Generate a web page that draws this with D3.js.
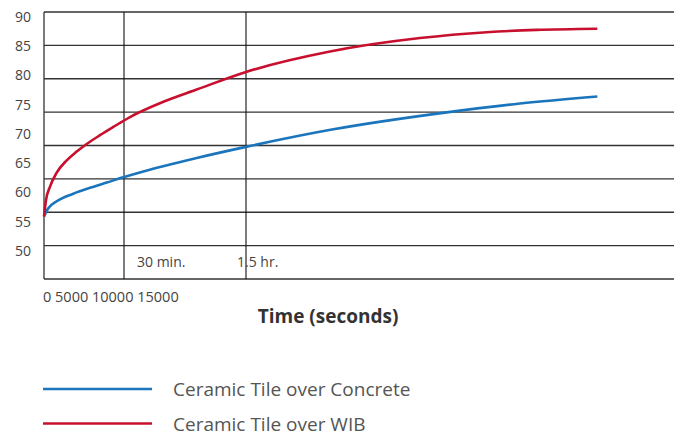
<!DOCTYPE html>
<meta charset="utf-8">
<html>
<style>
body { margin: 0; background: #fff; }
svg { display: block; font-family: "Open Sans", sans-serif; }
.grid { stroke: #333; stroke-width: 1.3px; }
.ylab { fill: #444; font-size: 14px; }
.curve { fill: none; stroke-width: 2.6px; }
.legend text { fill: #555; font-size: 19px; }
</style>
<body>
<script src="https://cdnjs.cloudflare.com/ajax/libs/d3/7.8.5/d3.min.js"></script>
<script>
	var width = 679;
	var height = 433;

	// values (time in seconds, temperature)
	var yTicks = [90, 85, 80, 75, 70, 65, 60, 55, 50];
	var xTickLabels = ["0", "5000", "10000", "15000"];
	var markerTimes = [1800, 4545];
	var markerLabels = ["30 min.", "1.5 hr."];
	var seriesNames = ["Ceramic Tile over Concrete", "Ceramic Tile over WIB"];
	var seriesColors = ["#1b75bc", "#c8102e"];

	var concreteTime = [0, 97, 286, 659, 1035, 1411, 1784, 2235, 3435, 4545, 6510, 9060, 10710, 12450];
	var concreteTemp = [55.9, 57.3, 58.5, 59.8, 60.8, 61.7, 62.6, 63.6, 65.9, 67.8, 70.8, 73.7, 75.2, 76.4];

	var wibTime = [0, 45, 135, 286, 511, 736, 961, 1260, 1559, 1935, 2685, 3435, 4545, 6435, 8460, 9960, 11085, 12450];
	var wibTemp = [55.9, 58.7, 61.0, 63.4, 65.5, 67.0, 68.3, 69.8, 71.2, 72.9, 75.5, 77.6, 80.6, 84.1, 86.4, 87.4, 87.8, 88.0];

	var plotLeft = 44, plotRight = 674, plotTop = 12, plotBottom = 279;

	var svg = d3.select("body")
				.append("svg")
				.attr("width", width)
				.attr("height", height);

	var x = d3.scaleLinear().domain([0, 14175]).range([plotLeft, plotRight]);
	// temperature scale the curves and labels use
	var y = d3.scaleLinear().domain([50, 90]).range([251, 17]);
	// the printed grid sits on its own, slightly taller scale
	var yGrid = d3.scaleLinear().domain([50, 90]).range([plotBottom, plotTop]);

	var grid = svg.append("g");

	grid.selectAll("line.h")
		.data(yTicks)
		.enter()
		.append("line")
		.attr("class", "grid h")
		.attr("x1", plotLeft)
		.attr("x2", plotRight)
		.attr("y1", d => yGrid(d))
		.attr("y2", d => yGrid(d));

	grid.append("line")
		.attr("class", "grid")
		.attr("x1", plotLeft).attr("x2", plotLeft)
		.attr("y1", plotTop).attr("y2", plotBottom);

	grid.selectAll("line.v")
		.data(markerTimes)
		.enter()
		.append("line")
		.attr("class", "grid v")
		.style("stroke", "#111")
		.style("stroke-width", "1.1px")
		.attr("x1", d => x(d))
		.attr("x2", d => x(d))
		.attr("y1", plotTop)
		.attr("y2", plotBottom);

	svg.selectAll("text.ylab")
		.data(yTicks)
		.enter()
		.append("text")
		.attr("class", "ylab")
		.attr("x", 31)
		.attr("y", d => y(d))
		.attr("dy", "0.35em")
		.attr("text-anchor", "end")
		.text(d => d);

	svg.selectAll("text.marker")
		.data(markerLabels)
		.enter()
		.append("text")
		.attr("class", "ylab")
		.attr("x", (d, i) => i == 0 ? x(markerTimes[i]) + 13 : x(markerTimes[i]) - 9)
		.attr("y", 267)
		.text(d => d);

	var xt = svg.append("text")
		.attr("class", "ylab")
		.style("font-size", "14.5px")
		.attr("x", plotLeft - 1)
		.attr("y", 302);
	xt.selectAll("tspan")
		.data(xTickLabels)
		.enter()
		.append("tspan")
		.text((d, i) => (i > 0 ? " " : "") + d);

	svg.append("text")
		.attr("x", 328)
		.attr("y", 323)
		.attr("text-anchor", "middle")
		.style("font-size", "19px")
		.style("font-weight", "bold")
		.style("fill", "#333")
		.text("Time (seconds)");

	var line = d3.line()
		.x(d => x(d[0]))
		.y(d => y(d[1]))
		.curve(d3.curveMonotoneX);

	var series = [d3.zip(concreteTime, concreteTemp), d3.zip(wibTime, wibTemp)];

	svg.selectAll("path.curve")
		.data(series)
		.enter()
		.append("path")
		.attr("class", "curve")
		.style("stroke", (d, i) => seriesColors[i])
		.attr("d", line);

	var legend = svg.append("g").attr("class", "legend");
	var rows = legend.selectAll("g")
		.data(seriesNames)
		.enter()
		.append("g")
		.attr("transform", (d, i) => "translate(0," + (389 + i * 34.5) + ")");

	rows.append("line")
		.attr("x1", 43).attr("x2", 152)
		.style("stroke", (d, i) => seriesColors[i])
		.style("stroke-width", 2.6);

	rows.append("text")
		.attr("x", 173)
		.attr("y", 7)
		.text(d => d);
</script>
</body>
</html>
